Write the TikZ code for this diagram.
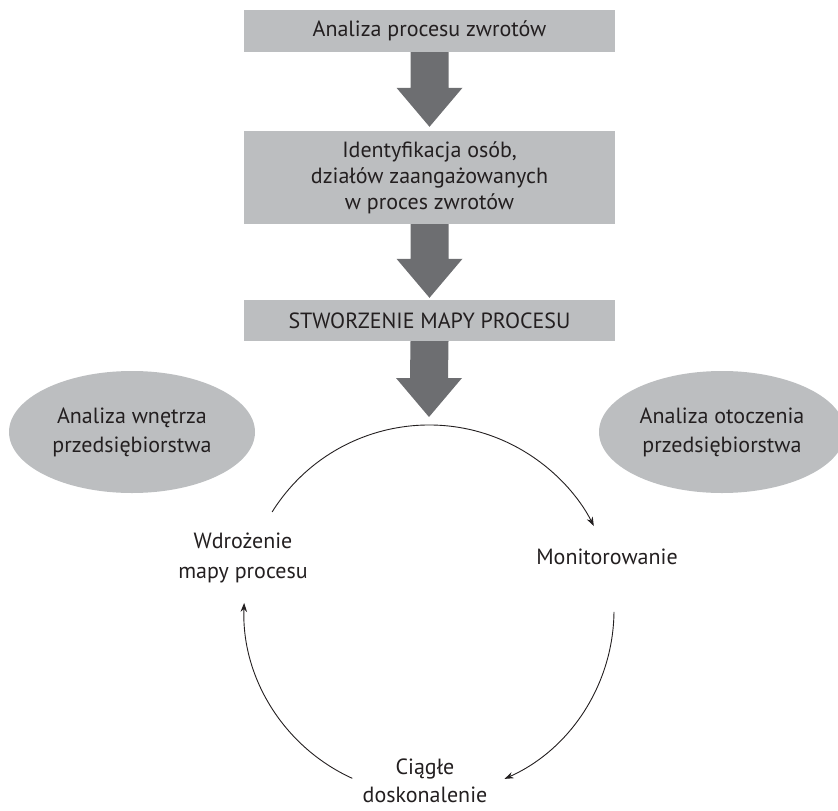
\documentclass[tikz,border=0pt]{standalone}
\usepackage{fontspec}
\setmainfont{PT Sans}
\usetikzlibrary{arrows.meta,calc,shapes.geometric}
\definecolor{boxgray}{HTML}{BCBEC0}
\definecolor{arrgray}{HTML}{6D6E71}
\definecolor{txt}{HTML}{231F20}
\newcommand\blockarrow[2]{%
  \fill[arrgray] ($(#1)+(-19,0)$) -- ($(#1)+(19,0)$) -- ($(#2)+(19,-39)$) -- ($(#2)+(33,-39)$)
    -- (#2) -- ($(#2)+(-33,-39)$) -- ($(#2)+(-19,-39)$) -- cycle;}
\begin{document}
\begin{tikzpicture}[x=1pt,y=-1pt,
  font=\fontsize{22}{26}\selectfont, text=txt,
  box/.style={fill=boxgray, minimum width=371pt, inner sep=0pt, align=center},
  oval/.style={ellipse, fill=boxgray, minimum width=246pt, minimum height=122pt,
    inner sep=0pt, align=center, font=\fontsize{22}{29}\selectfont},
  lbl/.style={align=center, inner sep=0pt, font=\fontsize{22}{30}\selectfont},
  cyc/.style={line width=0.9pt, draw=txt, -{Stealth[length=9pt,width=6.5pt]}}]
\useasboundingbox (0,0) rectangle (838,811);
% boxes
\node[box, minimum height=42pt] (b1) at (429.5,31) {Analiza procesu zwrotów};
\node[box, minimum height=93pt] (b2) at (429.5,177.5) {Identyfikacja osób,\\działów zaangażowanych\\w proces zwrotów};
\node[box, minimum height=41pt] (b3) at (429.5,320.5) {STWORZENIE MAPY PROCESU};
% cycle centre and arrow tips
\coordinate (c) at (429,610);
\coordinate (t1) at ($(b2.north)+(0,-4)$);
\coordinate (t2) at ($(b3.north)+(0,-2)$);
\coordinate (t3) at ($(c)+(0,-193)$);
% block arrows
\blockarrow{b1.south}{t1}
\blockarrow{b2.south}{t2}
\blockarrow{b3.south}{t3}
% ellipses
\node[oval] (e1) at (132,432) {Analiza wnętrza\\przedsiębiorstwa};
\node[oval] (e2) at (722,432) {Analiza otoczenia\\przedsiębiorstwa};
% cycle labels
\node[lbl] (w) at (243,558) {Wdrożenie\\mapy procesu};
\node[lbl] (m) at (607,557) {Monitorowanie};
\node[lbl, font=\fontsize{22}{28}\selectfont] (d) at (425,781) {Ciągłe\\doskonalenie};
% cycle arcs
\draw[cyc] ($(c)+(-148:185)$) arc[start angle=-148, end angle=-27, radius=185];
\draw[cyc] ($(c)+(0.6:185)$) arc[start angle=0.6, end angle=65.9, radius=185];
\draw[cyc] ($(c)+(114.5:185)$) arc[start angle=114.5, end angle=182.2, radius=185];
\end{tikzpicture}
\end{document}
